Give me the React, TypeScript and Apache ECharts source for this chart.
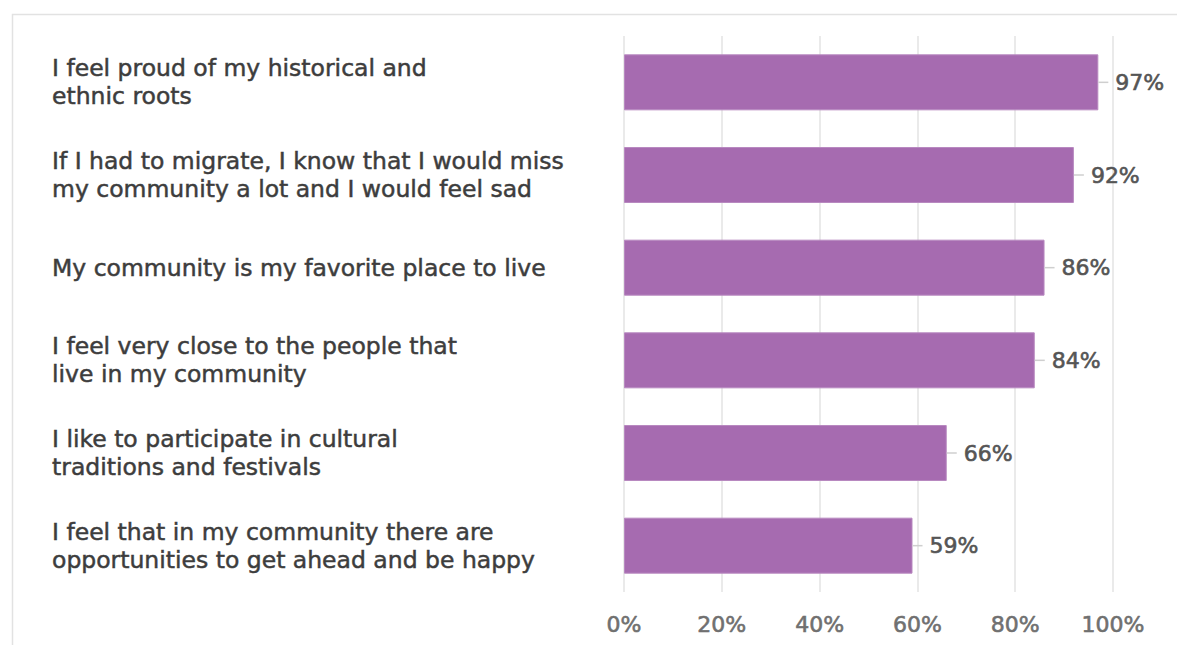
import React, { useEffect, useRef } from "react";
import * as echarts from "echarts";

const categories = [
  "I feel proud of my historical and\nethnic roots",
  "If I had to migrate, I know that I would miss\nmy community a lot and I would feel sad",
  "My community is my favorite place to live",
  "I feel very close to the people that\nlive in my community",
  "I like to participate in cultural\ntraditions and festivals",
  "I feel that in my community there are\nopportunities to get ahead and be happy",
];
const values = [97, 92, 86, 84, 66, 59];
const xTicks = [0, 20, 40, 60, 80, 100];

const FONT = "'DejaVu Sans', 'Noto Sans', sans-serif";

export default function App() {
  const ref = useRef<HTMLDivElement>(null);
  useEffect(() => {
    if (!ref.current) return;
    const chart = echarts.init(ref.current, undefined, { renderer: "svg" });
    chart.setOption({
      animation: false,
      backgroundColor: "#ffffff",
      graphic: [
        {
          type: "rect",
          left: 10,
          top: 12,
          shape: { width: 1300, height: 800 },
          style: { fill: "none", stroke: "#e2e2e2", lineWidth: 1.5 },
          silent: true,
        },
      ],
      grid: { left: 624, right: 64, top: 36, bottom: 53, containLabel: false },
      xAxis: {
        type: "value",
        min: xTicks[0],
        max: xTicks[xTicks.length - 1],
        interval: 20,
        axisLine: { show: false },
        axisTick: { show: false },
        splitLine: { show: true, lineStyle: { color: "#e3e3e3", width: 1.5 } },
        axisLabel: {
          formatter: "{value}%",
          margin: 21,
          color: "#707070",
          fontSize: 22,
          fontFamily: FONT,
          textBorderColor: "#707070",
          textBorderWidth: 0.6,
        },
      },
      yAxis: {
        type: "category",
        data: categories,
        inverse: true,
        axisLine: { show: false },
        axisTick: { show: false },
        splitLine: { show: false },
        axisLabel: {
          align: "left",
          margin: 572,
          color: "#3d3d3d",
          fontSize: 23.5,
          lineHeight: 28,
          fontFamily: FONT,
          textBorderColor: "#3d3d3d",
          textBorderWidth: 0.5,
        },
      },
      series: [
        {
          type: "bar",
          data: values,
          barWidth: 56,
          itemStyle: { color: "#a66bb0", borderColor: "#b889c0", borderWidth: 1 },
          label: {
            show: true,
            position: "right",
            distance: 0,
            formatter: (p: any) => `{l|}{v|${p.value}%}`,
            rich: {
              l: { width: 10, height: 1.5, backgroundColor: "#cfcfcf" },
              v: {
                color: "#555555",
                fontSize: 22,
                fontFamily: FONT,
                textBorderColor: "#555555",
                textBorderWidth: 0.6,
                padding: [0, 0, 0, 7],
              },
            },
          },
        },
      ],
    });
    return () => chart.dispose();
  }, []);
  return (
    <div
      ref={ref}
      style={{ position: "absolute", left: 0, top: 0, width: 1177, height: 645 }}
    />
  );
}
